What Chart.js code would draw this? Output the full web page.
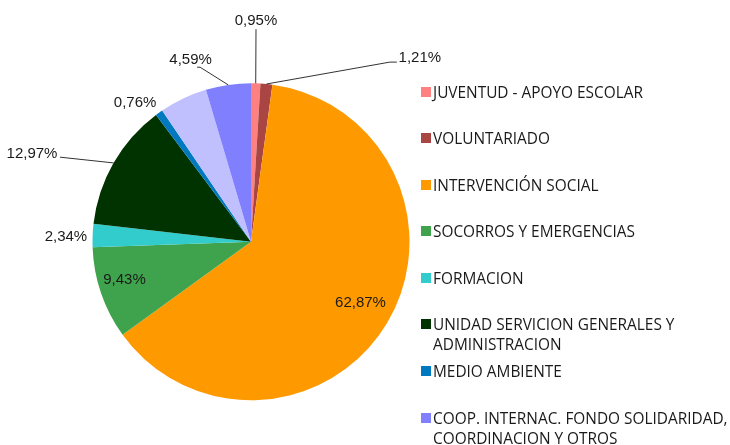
<!DOCTYPE html>
<html>
<head>
<meta charset="utf-8">
<script src="https://cdn.jsdelivr.net/npm/chart.js@4/dist/chart.umd.min.js"></script>
<style>
  html, body { margin: 0; padding: 0; background: #fff; }
  #wrap { position: relative; width: 730px; height: 445px; overflow: hidden; }
  #pie { position: absolute; left: 0; top: 0; }
  #legend {
    position: absolute; left: 421px; top: 82.5px; margin: 0; padding: 0; list-style: none;
    font-family: "Open Sans", sans-serif; font-size: 15.4px; line-height: 20px; color: #1a1a1a;
  }
  #legend li { display: flex; height: 46.6px; }
  #legend .sw { flex: none; width: 10px; height: 10px; margin: 4px 2px 0 0; }
  #legend .tx { width: 300px; }
</style>
</head>
<body>
<div id="wrap">
  <canvas id="pie" width="730" height="445"></canvas>
  <ul id="legend"></ul>
</div>
<script>
'use strict';

// --- datos ---
const categorias = [
  'JUVENTUD - APOYO ESCOLAR',
  'VOLUNTARIADO',
  'INTERVENCIÓN SOCIAL',
  'SOCORROS Y EMERGENCIAS',
  'FORMACION',
  'UNIDAD SERVICION GENERALES Y ADMINISTRACION',
  'MEDIO AMBIENTE',
  'COOP. INTERNAC. FONDO SOLIDARIDAD, COORDINACION Y OTROS',
  'OTROS',
];
const porcentajes = [0.95, 1.21, 62.87, 9.43, 2.34, 12.97, 0.76, 4.59, 4.88];
const colores = ['#ff8080', '#a94542', '#ff9900', '#3fa34d', '#33cccc', '#003300', '#0079c1', '#8080ff', '#c0c0ff'];
// el segmento lila (ultimo) va entre azul y morado, asi que el orden de dibujo es otro
const ordenDibujo = [0, 1, 2, 3, 4, 5, 6, 8, 7];

// posicion de etiquetas: angulo (grados, horario desde arriba), distancia en radios, guia opcional
const etiquetas = {
  0: { ang: 1.3, d: 1.392, guia: [[0, 8]] },
  1: { ang: 42.6, d: 1.574, guia: [[-30, 4], [-23, 4]] },
  2: { ang: 119.3, d: 0.792 },
  3: { ang: 253.1, d: 0.834 },
  4: { ang: 271.4, d: 1.168 },
  5: { ang: 291.8, d: 1.488, guia: [[28, 3]] },
  6: { ang: 320.1, d: 1.140 },
  7: { ang: 341.6, d: 1.207, guia: [[9.5, 7], [6.5, 7]] },
};

const fmt = v => v.toFixed(2).replace('.', ',') + '%';

const etiquetasPlugin = {
  id: 'etiquetas',
  afterDatasetsDraw(chart) {
    const ctx = chart.ctx;
    const arcs = chart.getDatasetMeta(0).data;
    ctx.save();
    ctx.font = '15px "Liberation Sans", Arial, sans-serif';
    ctx.fillStyle = '#1a1a1a';
    ctx.strokeStyle = '#333';
    ctx.lineWidth = 1;
    ctx.textBaseline = 'middle';
    ctx.textAlign = 'center';
    arcs.forEach((arc, k) => {
      const idx = ordenDibujo[k];
      const e = etiquetas[idx];
      if (!e) return;
      const { x, y, startAngle, endAngle, outerRadius } = arc.getProps(['x', 'y', 'startAngle', 'endAngle', 'outerRadius'], true);
      const a = e.ang * Math.PI / 180;
      const tx = x + Math.sin(a) * e.d * outerRadius;
      const ty = y - Math.cos(a) * e.d * outerRadius;
      if (e.guia) {
        const mid = (startAngle + endAngle) / 2;
        ctx.beginPath();
        ctx.moveTo(x + Math.cos(mid) * outerRadius, y + Math.sin(mid) * outerRadius);
        e.guia.forEach(p => ctx.lineTo(tx + p[0], ty + p[1]));
        ctx.stroke();
      }
      ctx.fillText(fmt(porcentajes[idx]), tx, ty);
    });
    ctx.restore();
  },
};

new Chart(document.getElementById('pie'), {
  type: 'pie',
  data: {
    labels: ordenDibujo.map(i => categorias[i]),
    datasets: [{
      data: ordenDibujo.map(i => porcentajes[i]),
      backgroundColor: ordenDibujo.map(i => colores[i]),
      borderWidth: 0,
    }],
  },
  options: {
    responsive: false,
    animation: false,
    layout: { padding: { left: 92.5, right: 320.5, top: 83, bottom: 44.5 } },
    plugins: { legend: { display: false }, tooltip: { enabled: false } },
  },
  plugins: [etiquetasPlugin],
});

// leyenda en html
const ul = document.getElementById('legend');
categorias.forEach((nombre, i) => {
  const li = document.createElement('li');
  li.innerHTML = '<span class="sw" style="background:' + colores[i] + '"></span><span class="tx"></span>';
  li.querySelector('.tx').textContent = nombre;
  ul.appendChild(li);
});
</script>
</body>
</html>
